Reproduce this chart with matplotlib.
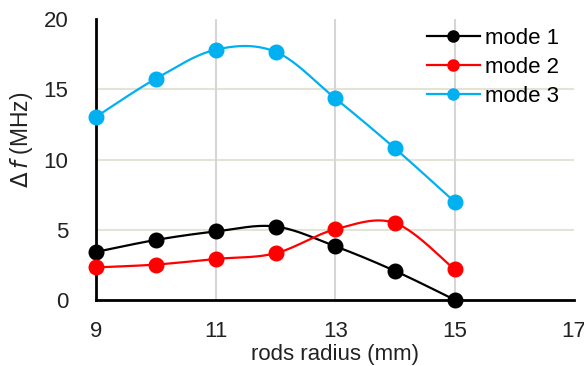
import numpy as np
import matplotlib.pyplot as plt

plt.rcParams['font.family'] = ['Liberation Sans', 'DejaVu Sans']

# data
radius = [9, 10, 11, 12, 13, 14, 15]
mode1 = [3.45, 4.3, 4.9, 5.25, 3.85, 2.1, 0.05]
mode2 = [2.35, 2.55, 2.95, 3.35, 5.05, 5.5, 2.2]
mode3 = [13.05, 15.75, 17.8, 17.65, 14.35, 10.8, 7.0]
names = ['mode 1', 'mode 2', 'mode 3']
colors = ['black', '#ff0000', '#00b0f0']


def smooth(x, y, n=30):
    # Excel-style smoothed line: Catmull-Rom bezier between points
    x = np.asarray(x, float)
    y = np.asarray(y, float)
    px = np.concatenate(([x[0]], x, [x[-1]]))
    py = np.concatenate(([y[0]], y, [y[-1]]))
    xs, ys = [], []
    t = np.linspace(0, 1, n)
    for i in range(1, len(px) - 2):
        p0 = np.array([px[i], py[i]])
        p3 = np.array([px[i + 1], py[i + 1]])
        p1 = p0 + (np.array([px[i + 1], py[i + 1]]) - np.array([px[i - 1], py[i - 1]])) / 6
        p2 = p3 - (np.array([px[i + 2], py[i + 2]]) - np.array([px[i], py[i]])) / 6
        b = ((1 - t) ** 3)[:, None] * p0 + (3 * (1 - t) ** 2 * t)[:, None] * p1 \
            + (3 * (1 - t) * t ** 2)[:, None] * p2 + (t ** 3)[:, None] * p3
        xs.extend(b[:, 0])
        ys.extend(b[:, 1])
    return xs, ys


fig = plt.figure(figsize=(5.84, 3.66), dpi=100)
ax = fig.add_axes([0.165, 0.179, 0.818, 0.770])

for y, c, name in zip([mode1, mode2, mode3], colors, names):
    sx, sy = smooth(radius, y)
    ax.plot(sx, sy, color=c, lw=1.6, zorder=3, clip_on=False)
    ax.plot(radius, y, 'o', color=c, ms=10.5, zorder=4, clip_on=False)
    ax.plot([], [], '-o', color=c, lw=1.6, ms=8, label=name)

ax.set_xlim(9, 17)
ax.set_ylim(0, 20)
ax.set_xticks([9, 11, 13, 15, 17])
ax.set_yticks([0, 5, 10, 15, 20])
ax.tick_params(length=0, labelsize=16, colors='#222222')
ax.tick_params(axis='y', pad=20)
ax.tick_params(axis='x', pad=15)

for y in [5, 10, 15]:
    ax.axhline(y, color='#e4e4d6', lw=1.5, zorder=1)
for x in [11, 13, 15]:
    ax.axvline(x, color='#d6d6d6', lw=1.5, zorder=1)

for s in ['top', 'right']:
    ax.spines[s].set_visible(False)
for s in ['left', 'bottom']:
    ax.spines[s].set_linewidth(2)
    ax.spines[s].set_color('black')

ax.set_xlabel('rods radius (mm)', fontsize=16, labelpad=1, color='#222222')
ax.set_ylabel(r'$\Delta\,f$ (MHz)', fontsize=16.5, color='#222222')
ax.yaxis.set_label_coords(-0.128, 0.57)

leg = ax.legend(loc='upper right', bbox_to_anchor=(1.005, 1.03), fontsize=16,
                frameon=False, handlelength=2.4,
                handletextpad=0.2, labelspacing=0.35, borderpad=0.3)

fig.savefig('out.png', dpi=100)
